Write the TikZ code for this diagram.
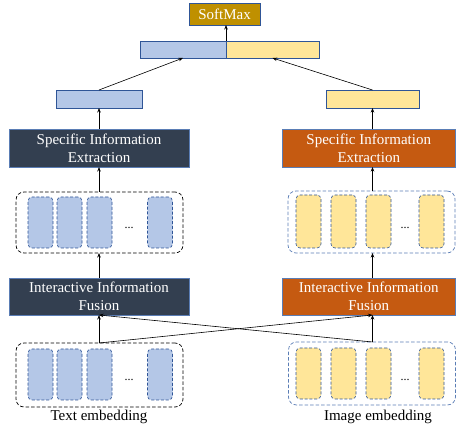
\documentclass[tikz,border=0pt]{standalone}
\usepackage{fontspec}
\setmainfont{Liberation Serif}
\usetikzlibrary{arrows.meta,calc}
\definecolor{slate}{HTML}{333F50}
\definecolor{rust}{HTML}{C55A11}
\definecolor{gold}{HTML}{BF9000}
\definecolor{lblue}{HTML}{B4C7E7}
\definecolor{lyel}{HTML}{FFE699}
\definecolor{bborder}{HTML}{2F5597}
\definecolor{lborder}{HTML}{5A7DB5}
\begin{document}
\begin{tikzpicture}[x=1pt,y=-1pt,
  every node/.style={inner sep=0pt,outer sep=0pt},
  txt/.style={font=\fontsize{15}{18.3}\selectfont},
  block/.style={txt,draw=lborder,line width=0.6pt,text=white,align=center},
  bar/.style={draw=bborder,line width=0.6pt,minimum height=17pt},
  cell/.style={draw=bborder,dash pattern=on 3pt off 1.8pt,line width=0.6pt,rounded corners=4pt,minimum width=25pt},
  box/.style={dash pattern=on 3.5pt off 2pt,line width=0.7pt,rounded corners=8pt,minimum width=167pt},
  arr/.style={-{Stealth[length=4.5pt,width=3.5pt]},line width=0.6pt,black},
  dots/.style={font=\fontsize{12}{12}\selectfont}
]
\useasboundingbox (0,0) rectangle (456,430);

% top
\node[block,fill=gold,draw=bborder,minimum width=71pt,minimum height=22pt] (sm) at (224.5,14) {SoftMax};
\node[bar,fill=lblue,minimum width=86pt] (cl) at (183,49.5) {};
\node[bar,fill=lyel,minimum width=93pt] (cr) at (272.5,49.5) {};

\node[bar,fill=lblue,minimum width=86pt,minimum height=18pt] (lbar) at (99,99) {};
\node[bar,fill=lyel,minimum width=93pt,minimum height=18pt] (rbar) at (372.5,99) {};

\node[block,fill=slate,minimum width=180pt,minimum height=38pt] (lsie) at (99,148) {Specific Information\\Extraction};
\node[block,fill=rust,minimum width=173.5pt,minimum height=38pt] (rsie) at (368.75,148) {Specific Information\\Extraction};

% middle containers
\node[box,draw=black,minimum height=61pt] (lmid) at (99.5,222.5) {};
\node[box,draw=lborder,minimum height=62pt] (rmid) at (371.5,222) {};
\foreach \x/\n in {40.5/1,69.5/2,99.5/3,160/4}{
  \node[cell,fill=lblue,minimum height=51pt] (lm\n) at (\x,222.5) {};
  \node[cell,fill=lblue,minimum height=51pt] (lb\n) at (\x,374.5) {};
}
\foreach \x/\n in {308.5/1,343.5/2,378.5/3,431.5/4}{
  \node[cell,fill=lyel,minimum height=53pt] (rm\n) at (\x,221.5) {};
  \node[cell,fill=lyel,minimum height=51pt] (rb\n) at (\x,373.5) {};
}
\node[dots] (ldm) at (129,228) {...};
\node[dots] (rdm) at (405,228) {...};
\node[dots] (ldb) at (129,380) {...};
\node[dots] (rdb) at (405,380) {...};

\node[block,fill=slate,minimum width=180pt,minimum height=37pt] (liif) at (99,296.5) {Interactive Information\\Fusion};
\node[block,fill=rust,minimum width=173.5pt,minimum height=37pt] (riif) at (368.75,296.5) {Interactive Information\\Fusion};

% bottom containers
\node[box,draw=black,minimum height=64pt] (lbot) at (99.5,375) {};
\node[box,draw=lborder,minimum height=63pt] (rbot) at (372,373.5) {};

\node[txt,anchor=center] (ltxt) at (99,417) {Text embedding};
\node[txt,anchor=center] (rtxt) at (378,417) {Image embedding};

% arrows
\draw[arr] (cl.north east) -- (cl.north east |- sm.south);
\draw[arr] (lbar.north) -- (cl.south);
\draw[arr] (rbar.north) -- (cr.south);
\draw[arr] (lsie.north -| lbar.south) -- (lbar.south);
\draw[arr] (rsie.north -| rbar.south) -- (rbar.south);
\draw[arr] (lmid.north -| lbar.south) -- (lsie.south -| lbar.south);
\draw[arr] (rmid.north -| rbar.south) -- (rsie.south -| rbar.south);
\draw[arr] (liif.north -| lbar.south) -- (lmid.south -| lbar.south);
\draw[arr] (riif.north -| rbar.south) -- (rmid.south -| rbar.south);
\coordinate (lsrc) at (lbot.north -| lbar.south);
\coordinate (rsrc) at (rbot.north -| rbar.south);
\draw[arr] (lsrc) -- (liif.south -| lbar.south);
\draw[arr] (lsrc) -- (riif.south -| rbar.south);
\draw[arr] (rsrc) -- (riif.south -| rbar.south);
\draw[arr] (rsrc) -- (liif.south -| lbar.south);
\end{tikzpicture}
\end{document}
